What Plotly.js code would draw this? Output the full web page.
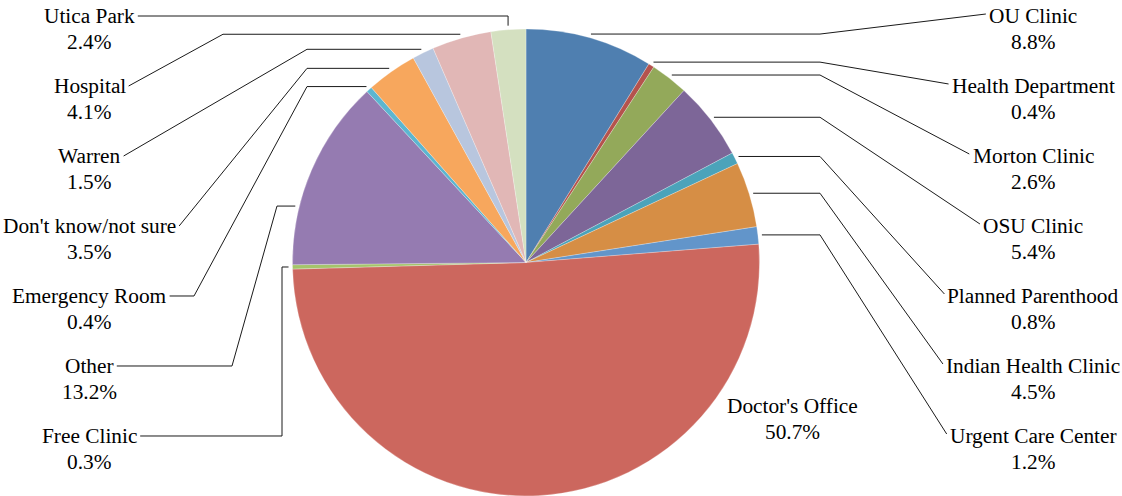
<!DOCTYPE html>
<html>
<head>
<meta charset="utf-8">
<script src="https://cdn.plot.ly/plotly-3.0.1.min.js"></script>
<style>html,body{margin:0;padding:0;background:#fff;}#chart{width:1122px;height:496px;}</style>
</head>
<body>
<div id="chart"></div>
<script>
// ---- data ----
const categories = ["OU Clinic","Health Department","Morton Clinic","OSU Clinic","Planned Parenthood","Indian Health Clinic","Urgent Care Center","Doctor's Office","Free Clinic","Other","Emergency Room","Don't know/not sure","Warren","Hospital","Utica Park"];
const values = [8.8,0.4,2.6,5.4,0.8,4.5,1.2,50.7,0.3,13.2,0.4,3.5,1.5,4.1,2.4];
const colors = ["#4F7FB0","#B5534D","#93A95A","#7D6698","#4BA3BA","#D68E45","#6295CA","#CC675E","#A5C46B","#957BB1","#5CB6D0","#F7A75D","#B8C6DE","#E1B7B6","#D4E0C0"];

// ---- label layout (style, not data) ----
const labelSide = ["R","R","R","R","R","R","R","in","L","L","L","L","L","L","L"];
const labelRow  = [0,1,2,3,4,5,6,null,6,5,4,3,2,1,0];
const leaderStub  = [null,null,null,null,null,null,null,null,282,232,194,null,null,null,"P"];
const leaderElbow = [820,820,820,820,820,820,820,null,282,277,307,307,307,223,"P"];
const leaderAt    = [0.5,0.5,0.5,0.5,0.5,0.5,0.5,0.5,0.5,0.3,0.5,0.5,0.5,0.5,0.5];

const W = 1122, H = 496, CX = 526, CY = 262.5, RAD = 233.5;
const FONT = "Liberation Serif";
const FS = 21.33;
const LEFT_X = 89.5, RIGHT_X = 1033, ROW0 = 16, ROWSTEP = 70, LINE2 = 26;

const px = x => x / W;
const py = y => 1 - y / H;

const cv = document.createElement("canvas").getContext("2d");
cv.font = FS + 'px "Liberation Serif"';
const tw = s => cv.measureText(s).width;

const total = values.reduce((a, b) => a + b, 0);
const annotations = [];
const shapes = [];
let cum = 0;
categories.forEach((name, i) => {
  const v = values[i];
  const frac = (cum + v * leaderAt[i]) / total;
  cum += v;
  const th = 2 * Math.PI * frac;
  const pct = v.toFixed(1) + "%";
  const side = labelSide[i];
  let lx, ly;
  if (side === "in") {
    lx = 792; ly = 406;
  } else {
    ly = ROW0 + ROWSTEP * labelRow[i];
    lx = side === "R" ? RIGHT_X : LEFT_X;
  }
  annotations.push({x: px(lx), y: py(ly), xref: "paper", yref: "paper", text: name, showarrow: false, xanchor: "center", yanchor: "middle", font: {family: FONT, size: FS, color: "#000"}});
  annotations.push({x: px(lx), y: py(ly + LINE2), xref: "paper", yref: "paper", text: pct, showarrow: false, xanchor: "center", yanchor: "middle", font: {family: FONT, size: FS, color: "#000"}});
  if (side === "in") return;
  const Rl = RAD + 4;
  const P = [CX + Rl * Math.sin(th), CY - Rl * Math.cos(th)];
  const w = tw(name);
  const L = side === "R" ? [lx - w / 2 - 3, ly - 2] : [lx + w / 2 + 3, ly];
  const pts = [L];
  const stub = leaderStub[i] === "P" ? P[0] : leaderStub[i];
  if (stub !== null) pts.push([stub, ly]);
  const el = leaderElbow[i] === "P" ? P[0] : leaderElbow[i];
  pts.push([el, P[1]]);
  pts.push(P);
  const path = pts.map((p, k) => (k ? "L" : "M") + px(p[0]).toFixed(5) + "," + py(p[1]).toFixed(5)).join(" ");
  shapes.push({type: "path", xref: "paper", yref: "paper", path: path, line: {color: "#1a1a1a", width: 1}});
});

const trace = {
  type: "pie",
  labels: categories,
  values: values,
  sort: false,
  direction: "clockwise",
  rotation: 0,
  textinfo: "none",
  hoverinfo: "label+percent",
  marker: {colors: colors, line: {color: "rgba(255,255,255,0.5)", width: 0.5}},
  domain: {x: [(CX - RAD) / W, (CX + RAD) / W], y: [(H - CY - RAD) / H, (H - CY + RAD) / H]},
  showlegend: false
};

const layout = {
  width: W, height: H,
  margin: {l: 0, r: 0, t: 0, b: 0},
  paper_bgcolor: "#fff",
  plot_bgcolor: "#fff",
  font: {family: FONT, size: FS, color: "#000"},
  showlegend: false,
  annotations: annotations,
  shapes: shapes
};

Plotly.newPlot("chart", [trace], layout, {displayModeBar: false, staticPlot: true});
</script>
</body>
</html>
